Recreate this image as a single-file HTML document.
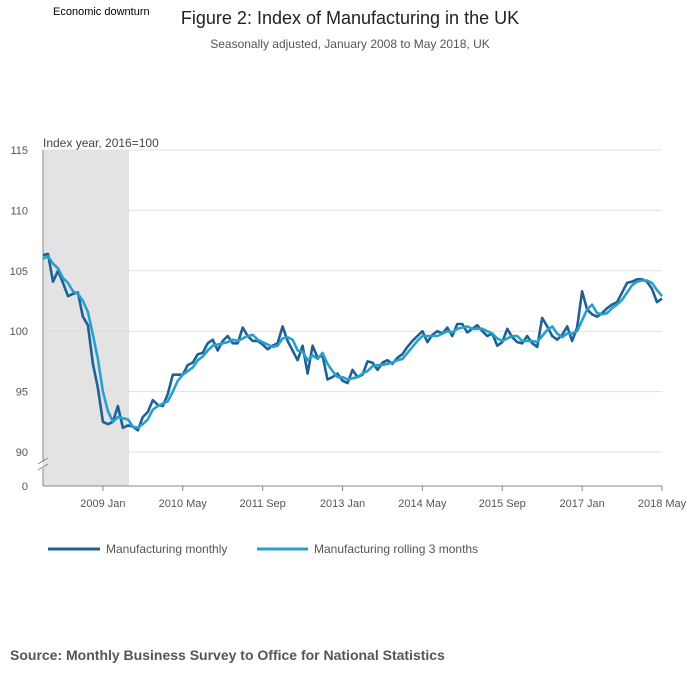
<!DOCTYPE html>
<html><head><meta charset="utf-8"><style>
body{margin:0;background:#fff;font-family:"Liberation Sans",sans-serif;}
svg{display:block}
</style></head><body>
<svg width="700" height="682" id="c">
<text x="53" y="15" font-size="11" fill="#000">Economic downturn</text>
<text x="350" y="24" font-size="18" fill="#222" text-anchor="middle">Figure 2: Index of Manufacturing in the UK</text>
<text x="350" y="48" font-size="12" fill="#555" text-anchor="middle">Seasonally adjusted, January 2008 to May 2018, UK</text>
<rect x="43" y="150" width="86" height="336" fill="#e3e3e3"/>
<g id="grid"></g>
<text x="43" y="147" font-size="12" fill="#444">Index year, 2016=100</text>
<g id="series"></g>
<g>
<line x1="48" y1="549" x2="100" y2="549" stroke="#206095" stroke-width="3"/>
<text x="106" y="553" font-size="12" fill="#555">Manufacturing monthly</text>
<line x1="257" y1="549" x2="308" y2="549" stroke="#27a0cc" stroke-width="3"/>
<text x="314" y="553" font-size="12" fill="#555">Manufacturing rolling 3 months</text>
</g>
<text x="10" y="660" font-size="14" font-weight="bold" fill="#555">Source: Monthly Business Survey to Office for National Statistics</text>
</svg>
<script>
const monthly=[106.3,106.4,104.1,105.0,104.0,102.9,103.1,103.2,101.2,100.5,97.3,95.3,92.5,92.3,92.5,93.8,92.0,92.2,92.1,91.8,92.9,93.3,94.3,93.9,93.8,94.8,96.4,96.4,96.4,97.2,97.4,98.1,98.2,99.0,99.3,98.4,99.2,99.6,99.0,99.0,100.3,99.6,99.2,99.2,98.9,98.5,98.8,99.0,100.4,99.2,98.4,97.6,98.8,96.5,98.8,97.8,98.0,96.0,96.2,96.5,95.9,95.7,96.8,96.2,96.4,97.5,97.4,96.8,97.4,97.6,97.3,97.8,98.1,98.7,99.2,99.6,100.0,99.1,99.7,100.0,99.8,100.3,99.6,100.6,100.6,99.9,100.2,100.5,100.0,99.6,99.8,98.8,99.1,100.2,99.5,99.1,99.0,99.6,99.0,98.7,101.1,100.4,99.6,99.3,99.7,100.4,99.2,100.3,103.3,101.8,101.4,101.2,101.5,101.9,102.2,102.4,103.2,104.0,104.1,104.3,104.3,104.1,103.5,102.4,102.7];
const rolling=[106.0,106.2,105.6,105.2,104.4,104.0,103.3,103.1,102.5,101.6,99.7,97.7,95.0,93.4,92.5,92.9,92.8,92.7,92.1,92.0,92.3,92.7,93.5,93.8,94.0,94.2,95.0,95.9,96.4,96.7,97.0,97.6,97.9,98.4,98.8,98.9,99.0,99.1,99.3,99.2,99.4,99.6,99.7,99.3,99.1,98.9,98.7,98.8,99.4,99.5,99.3,98.4,98.3,97.6,98.0,97.7,98.2,97.3,96.7,96.2,96.2,96.0,96.1,96.2,96.5,96.7,97.1,97.2,97.2,97.3,97.4,97.6,97.7,98.2,98.7,99.2,99.6,99.6,99.6,99.6,99.8,100.0,99.9,100.2,100.3,100.4,100.2,100.2,100.2,100.0,99.8,99.4,99.2,99.4,99.6,99.6,99.2,99.2,99.2,99.1,99.6,100.1,100.4,99.8,99.5,99.8,99.8,100.0,100.9,101.8,102.2,101.5,101.4,101.5,101.9,102.2,102.6,103.2,103.8,104.1,104.2,104.2,104.0,103.4,102.9];
const yTicks=[90,95,100,105,110,115];
const xTickIdx=[12,28,44,60,76,92,108,124];
const xTickLabels=["2009 Jan","2010 May","2011 Sep","2013 Jan","2014 May","2015 Sep","2017 Jan","2018 May"];
const NS="http://www.w3.org/2000/svg";
const X0=43,X1=662,n=monthly.length;
function xs(i){return X0+i*(X1-X0)/(n-1);}
function ys(v){return 452-(v-90)*302/25;}
function mk(t,a,p){const e=document.createElementNS(NS,t);for(const k in a)e.setAttribute(k,a[k]);p.appendChild(e);return e;}
const g=document.getElementById('grid');
yTicks.forEach(v=>{
 const l=mk('line',{x1:X0,x2:X1,y1:ys(v),y2:ys(v),stroke:'#e0e0e0','stroke-width':1},g);
 
 
 const t=mk('text',{x:28,y:ys(v)+4,'font-size':11,fill:'#555','text-anchor':'end'},g);
 t.textContent=v;
 
 
});
const z=mk('text',{x:28,y:490,'font-size':11,fill:'#555','text-anchor':'end'},g);z.textContent='0';


const ax=mk('path',{d:'M43 150V462M43 468V486',stroke:'#888',fill:'none','stroke-width':1},g);


const br=mk('path',{d:'M38 464L48 458M38 470L48 464',stroke:'#888','stroke-width':1},g);


const xa=mk('line',{x1:X0,x2:X1,y1:486,y2:486,stroke:'#888'},g);


xTickIdx.forEach((i,k)=>{
 mk('line',{x1:xs(i),x2:xs(i),y1:486,y2:491,stroke:'#888'},g);
 const t=mk('text',{x:xs(i),y:507,'font-size':11,fill:'#555','text-anchor':'middle'},g);
 t.textContent=xTickLabels[k];
 
 
});
const s=document.getElementById('series');
function line(arr,col,name){
 const d=arr.map((v,i)=>(i?'L':'M')+xs(i).toFixed(1)+' '+ys(v).toFixed(1)).join('');
 const p=mk('path',{d:d,stroke:col,'stroke-width':2.6,fill:'none','stroke-linejoin':'round'},s);
 
 
}
line(monthly,'#206095','monthly-line');
line(rolling,'#27a0cc','rolling-3-month-line');
</script>
</body></html>
